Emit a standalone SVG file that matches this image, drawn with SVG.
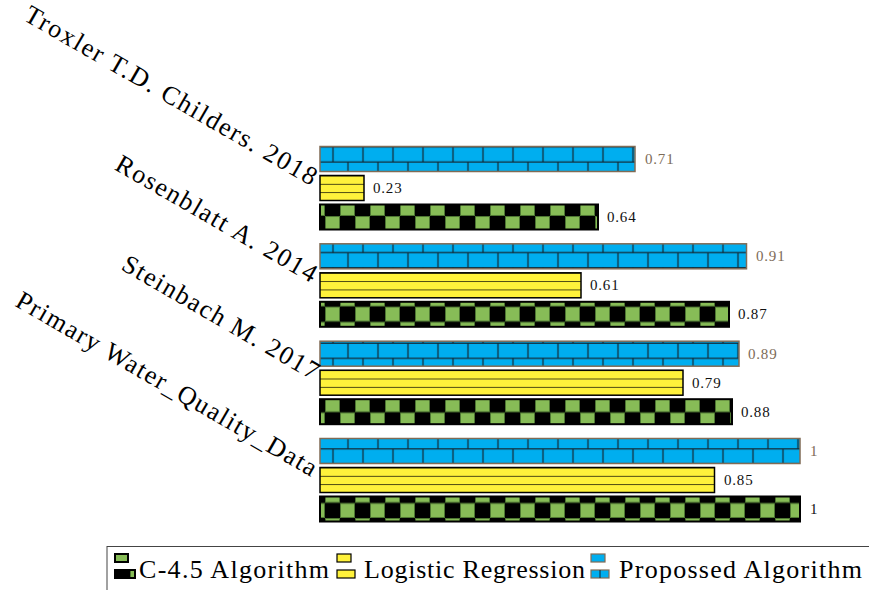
<svg xmlns="http://www.w3.org/2000/svg" width="869" height="590" viewBox="0 0 869 590">
<style>
.cat{font-family:"Liberation Serif",serif;font-size:26px;fill:#000;text-anchor:end}
.val{font-family:"Liberation Serif",serif;font-size:15px;letter-spacing:0.8px;fill:#111}
.valb{font-family:"Liberation Serif",serif;font-size:15px;letter-spacing:0.8px;fill:#7d6b58}
.leg{font-family:"Liberation Serif",serif;font-size:26px;fill:#000}
.blue{fill:url(#bricks);stroke:#806b55;stroke-width:1.5}
.yel{fill:url(#hlines);stroke:#000;stroke-width:1.5}
.chk{fill:url(#checker);stroke:#000;stroke-width:2}
</style>
<defs>
<pattern id="bricks" patternUnits="userSpaceOnUse" x="325.5" y="139.35" width="30" height="30.2">
<rect x="0" y="0" width="30" height="30.2" fill="#00aeef"/>
<g stroke="#14232c" stroke-width="1.2">
<line x1="0" y1="7.55" x2="30" y2="7.55"/>
<line x1="0" y1="22.65" x2="30" y2="22.65"/>
<line x1="7.5" y1="7.55" x2="7.5" y2="22.65"/>
<line x1="22.5" y1="0" x2="22.5" y2="7.55"/>
<line x1="22.5" y1="22.65" x2="22.5" y2="30.2"/>
</g>
</pattern>
<pattern id="hlines" patternUnits="objectBoundingBox" x="0" y="0" width="1" height="0.3333">
<rect x="0" y="0" width="1000" height="20" fill="#fff23b"/>
<line x1="0" y1="0" x2="1000" y2="0" stroke="#000" stroke-width="1.6"/>
</pattern>
<pattern id="checker" patternUnits="userSpaceOnUse" x="325" y="216" width="30" height="30.2">
<rect x="0" y="0" width="30" height="30.2" fill="#000"/>
<rect x="0.5" y="0.5" width="14" height="14.1" fill="#87bc57" stroke="#4d7632" stroke-width="1"/>
<rect x="15.5" y="15.6" width="14" height="14.1" fill="#87bc57" stroke="#4d7632" stroke-width="1"/>
</pattern>
</defs>
<rect x="0" y="0" width="869" height="590" fill="#fff"/>
<g id="connectors"></g>
<g id="troxler">
<rect class="blue" x="320" y="146.5" width="315" height="25"/>
<rect class="yel" x="320" y="175.5" width="44" height="25"/>
<rect class="chk" x="320" y="204.5" width="278" height="25"/>
<text class="valb" x="645" y="164">0.71</text>
<text class="val" x="373" y="193">0.23</text>
<text class="val" x="607" y="222">0.64</text>
<text class="cat" transform="translate(311,186) rotate(30)" textLength="333" lengthAdjust="spacing">Troxler T.D. Childers. 2018</text>
</g>
<g id="rosenblatt">
<rect class="blue" x="320" y="243.8" width="426.5" height="25"/>
<rect class="yel" x="320" y="272.8" width="261" height="25"/>
<rect class="chk" x="320" y="301.8" width="409" height="25"/>
<text class="valb" x="756" y="261.3">0.91</text>
<text class="val" x="590" y="290.3">0.61</text>
<text class="val" x="738" y="319.3">0.87</text>
<text class="cat" transform="translate(311,283) rotate(30)" textLength="228" lengthAdjust="spacing">Rosenblatt A. 2014</text>
</g>
<g id="steinbach">
<rect class="blue" x="320" y="341.2" width="419" height="25"/>
<rect class="yel" x="320" y="370.2" width="363" height="25"/>
<rect class="chk" x="320" y="399.2" width="412" height="25"/>
<text class="valb" x="748" y="358.7">0.89</text>
<text class="val" x="692" y="387.7">0.79</text>
<text class="val" x="741" y="416.7">0.88</text>
<text class="cat" transform="translate(313,380.5) rotate(30)" textLength="223" lengthAdjust="spacing">Steinbach M. 2017</text>
</g>
<g id="primary">
<rect class="blue" x="320" y="438.5" width="480" height="25"/>
<rect class="yel" x="320" y="467.5" width="394.5" height="25"/>
<rect class="chk" x="320" y="496.5" width="480" height="25"/>
<text class="valb" x="810" y="456">1</text>
<text class="val" x="724" y="485">0.85</text>
<text class="val" x="810" y="514">1</text>
<text class="cat" transform="translate(311,477) rotate(30)" textLength="343" lengthAdjust="spacing">Primary Water_Quality_Data</text>
</g>
<g id="legend">
<rect x="107" y="546.5" width="800" height="100" fill="none" stroke="#444" stroke-width="1"/>
<rect class="chk" x="115" y="554" width="13" height="8" stroke-width="1.2"/>
<rect class="chk" x="115" y="570" width="20" height="8" stroke-width="1.2"/>
<text class="leg" x="139" y="578" textLength="190" lengthAdjust="spacing">C-4.5 Algorithm</text>
<rect x="337" y="554" width="14" height="8" fill="#fff23b" stroke="#000" stroke-width="1.2"/>
<rect x="337" y="570" width="18" height="8" fill="#fff23b" stroke="#000" stroke-width="1.2"/>
<text class="leg" x="364" y="578" textLength="221" lengthAdjust="spacing">Logistic Regression</text>
<rect x="591" y="554" width="14" height="8" fill="#00aeef" stroke="#806b55" stroke-width="1.2"/>
<rect x="591" y="570" width="18" height="8" fill="#00aeef" stroke="#806b55" stroke-width="1.2"/>
<line x1="600" y1="570" x2="600" y2="578" stroke="#14232c" stroke-width="1"/>
<text class="leg" x="619" y="578" textLength="243" lengthAdjust="spacing">Propossed Algorithm</text>
</g>
</svg>
